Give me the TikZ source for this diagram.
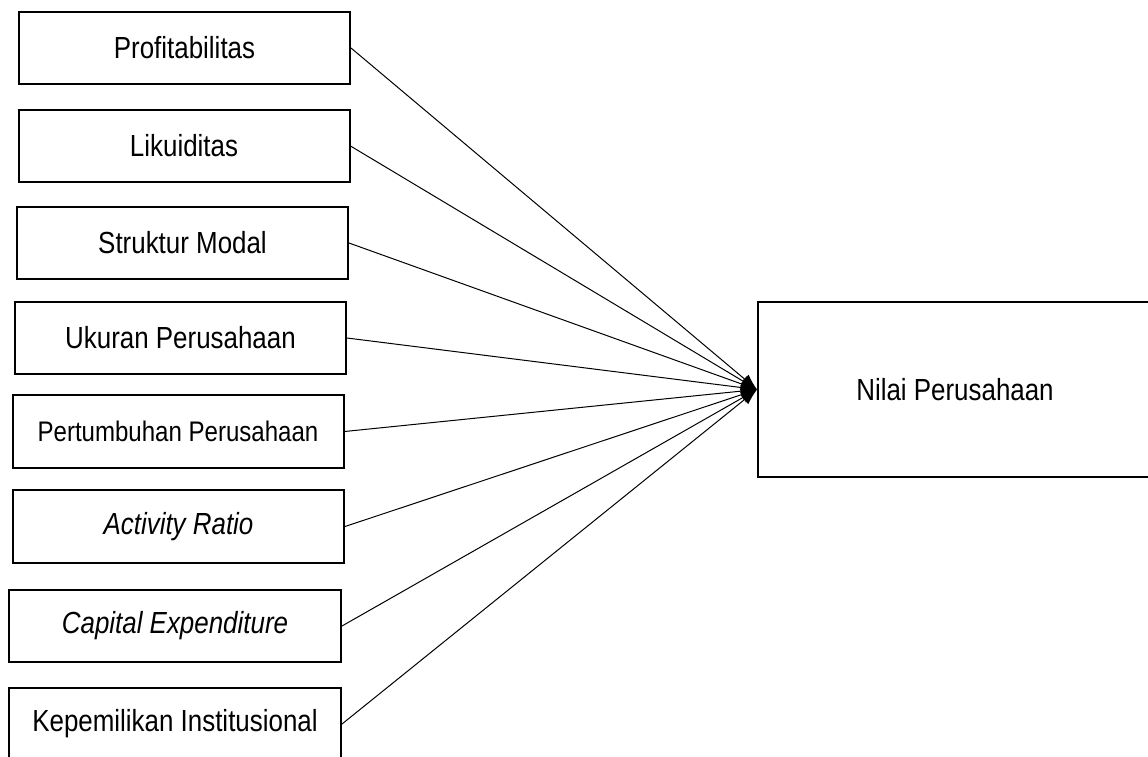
\documentclass[tikz,border=0pt]{standalone}
\usepackage{fontspec}
\setmainfont{Liberation Sans}[FakeStretch=0.85]
\usetikzlibrary{arrows.meta}
\tikzset{
  varbox/.style={draw=black, line width=2pt, fill=white, minimum width=331pt, minimum height=72pt, inner sep=0pt,
    font=\fontsize{30.5}{36}\selectfont},
  link/.style={draw=black, line width=1pt, -{Latex[length=16pt,width=12pt]}}
}
\begin{document}
\begin{tikzpicture}[x=1pt,y=-1pt]
\clip (0,0) rectangle (1148,756);
\fill[white] (0,0) rectangle (1148,756);
\node[varbox] (b1) at (184.5,48) {Profitabilitas};
\node[varbox] (b2) at (184,146) {Likuiditas};
\node[varbox] (b3) at (182.5,243) {Struktur Modal};
\node[varbox] (b4) at (180.5,338) {Ukuran Perusahaan};
\node[varbox, minimum height=73pt, font=\fontsize{28.3}{34}\selectfont] (b5) at (178,431.5) {Pertumbuhan Perusahaan};
\node[varbox, minimum height=73pt] (b6) at (178.5,526.5) {\itshape Activity Ratio};
\node[varbox, minimum width=332pt] (b7) at (175,626) {\itshape Capital Expenditure};
\node[varbox, minimum width=332pt] (b8) at (175,724) {Kepemilikan Institusional};
\node[varbox, minimum width=394pt, minimum height=175pt] (t) at (955,389.5) {Nilai Perusahaan};
\foreach \i in {1,...,8} {
  \draw[link] (b\i.east) -- (t.west);
}
\end{tikzpicture}
\end{document}
